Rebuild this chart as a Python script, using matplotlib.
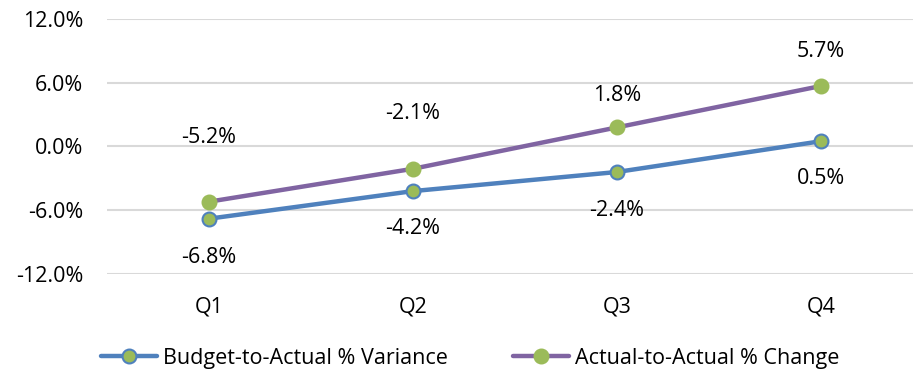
import numpy as np
import matplotlib.pyplot as plt
from matplotlib.ticker import FuncFormatter

quarters = ['Q1', 'Q2', 'Q3', 'Q4']
budget_var = [-6.8, -4.2, -2.4, 0.5]
actual_chg = [-5.2, -2.1, 1.8, 5.7]
# label offsets in points (as placed in the original)
budget_lbl_off = [-28, -27, -28, -27]
actual_lbl_off = [46, 40, 23, 25]

plt.rcParams.update({'font.family': ['Open Sans', 'DejaVu Sans'],
                     'font.size': 15.5})

fig = plt.figure(figsize=(9.13, 3.81), dpi=100)
ax = fig.add_axes([0.117, 0.281, 0.883, 0.669])

x = np.arange(len(quarters))
ax.plot(x, budget_var, color='#4F81BD', lw=3.2, marker='o', ms=10,
        mfc='#9BBB59', mec='#4F81BD', mew=1.5, label='Budget-to-Actual % Variance',
        solid_capstyle='round', zorder=3)
ax.plot(x, actual_chg, color='#8064A2', lw=3.2, marker='o', ms=10,
        mfc='#9BBB59', mec='#9BBB59', mew=1.5, label='Actual-to-Actual % Change',
        solid_capstyle='round', zorder=3)

for i in range(len(x)):
    ax.annotate(f'{budget_var[i]:.1f}%', (x[i], budget_var[i]),
                xytext=(0, budget_lbl_off[i]), textcoords='offset points',
                ha='center', va='center')
    ax.annotate(f'{actual_chg[i]:.1f}%', (x[i], actual_chg[i]),
                xytext=(0, actual_lbl_off[i]), textcoords='offset points',
                ha='center', va='center')

ax.set_ylim(-12, 12)
ax.set_yticks([-12, -6, 0, 6, 12])
ax.yaxis.set_major_formatter(FuncFormatter(lambda v, p: f'{v:.1f}%'))
ax.set_xlim(-0.5, 3.45)
ax.set_xticks(x)
ax.set_xticklabels(quarters)
ax.grid(axis='y', color='#D9D9D9', lw=1.5)
ax.set_axisbelow(True)
for s in ax.spines.values():
    s.set_visible(False)
ax.tick_params(length=0)
ax.tick_params(axis='x', pad=16)
ax.tick_params(axis='y', pad=17)

fig.legend(loc='center', bbox_to_anchor=(0.515, 0.06), ncol=2, frameon=False,
           handlelength=2.6, columnspacing=3.0, handletextpad=0.3)

plt.savefig('out.png', dpi=100)
